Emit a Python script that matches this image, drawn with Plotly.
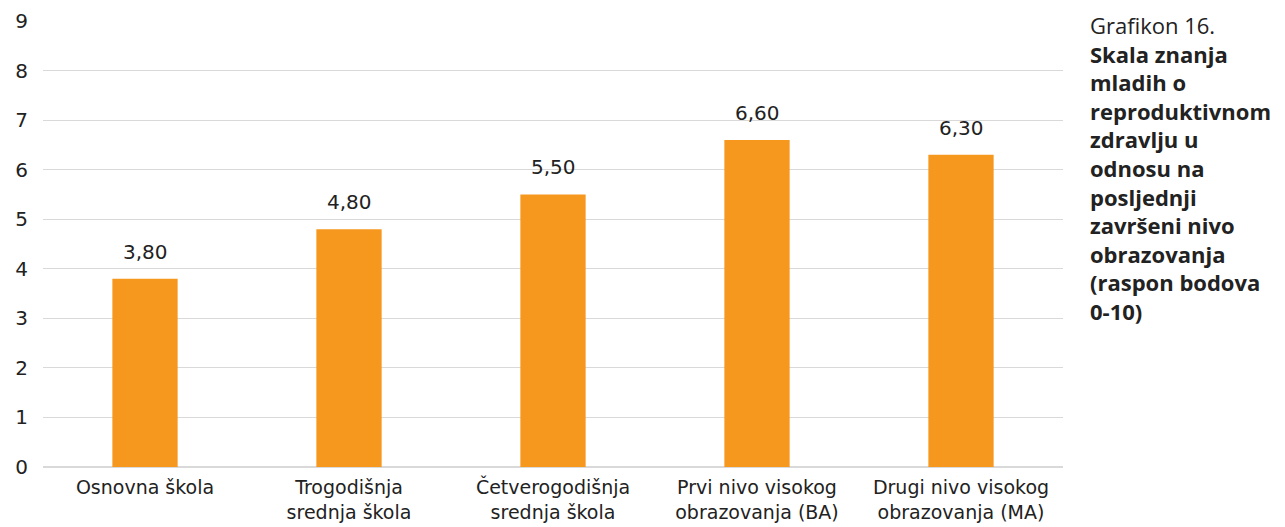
import plotly.graph_objects as go

categories = ["Osnovna škola", "Trogodišnja<br>srednja škola", "Četverogodišnja<br>srednja škola",
              "Prvi nivo visokog<br>obrazovanja (BA)", "Drugi nivo visokog<br>obrazovanja (MA)"]
values = [3.80, 4.80, 5.50, 6.60, 6.30]
value_labels = ["3,80", "4,80", "5,50", "6,60", "6,30"]
y_ticks = [0, 1, 2, 3, 4, 5, 6, 7, 8, 9]

FONT = "DejaVu Sans"
fig = go.Figure(go.Bar(
    x=categories, y=values,
    marker=dict(color="#F7981E", line=dict(width=0)),
    width=0.32,
))
annots = [dict(x=c, y=v, text=t, showarrow=False, yanchor="bottom", yshift=13,
               font=dict(size=20, color="#222", family=FONT))
          for c, v, t in zip(categories, values, value_labels)]
annots.append(dict(
    xref="paper", yref="paper", x=1.0245, y=1.03, xanchor="left", yanchor="top", align="left",
    showarrow=False, font=dict(size=22, family="Open Sans", color="#222"),
    text=("Grafikon 16.<br><b>Skala znanja<br>mladih o<br>reproduktivnom<br>zdravlju u<br>odnosu na<br>"
          "posljednji<br>završeni nivo<br>obrazovanja<br>(raspon bodova<br>0-10)</b>"),
))
fig.update_layout(
    width=1277, height=519,
    margin=dict(l=35, r=222, t=13, b=60),
    plot_bgcolor="white", paper_bgcolor="white",
    font=dict(family=FONT, size=20, color="#222"),
    showlegend=False,
    yaxis=dict(range=[0, 9], tickvals=y_ticks, showgrid=True, gridcolor="#d9d9d9", gridwidth=1,
               zeroline=True, zerolinecolor="#d9d9d9", ticks="", showline=False,
               tickfont=dict(size=20), ticklabelstandoff=14, automargin=False),
    xaxis=dict(showline=False, ticks="", tickfont=dict(size=19), tickangle=0, automargin=False,
               ticklabelstandoff=7),
    annotations=annots,
)
fig.write_html("out.html")
